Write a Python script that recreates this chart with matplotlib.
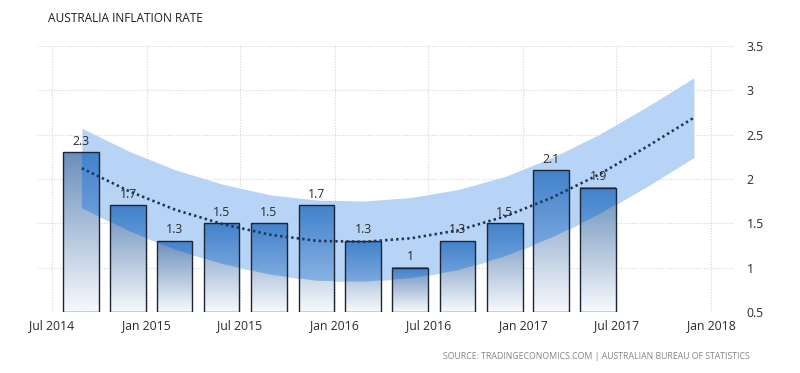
import numpy as np
import pandas as pd
import matplotlib
matplotlib.use("Agg")
import matplotlib.pyplot as plt
import matplotlib.dates as mdates

plt.rcParams['font.family'] = ['Open Sans', 'DejaVu Sans']

# quarterly inflation (quarter end dates)
quarters = ['2014-09-30', '2014-12-31', '2015-03-31', '2015-06-30', '2015-09-30', '2015-12-31',
            '2016-03-31', '2016-06-30', '2016-09-30', '2016-12-31', '2017-03-31', '2017-06-30']
inflation = [2.3, 1.7, 1.3, 1.5, 1.5, 1.7, 1.3, 1.0, 1.3, 1.5, 2.1, 1.9]
value_labels = ['2.3', '1.7', '1.3', '1.5', '1.5', '1.7', '1.3', '1', '1.3', '1.5', '2.1', '1.9']

# trend line with band (two extra forecast quarters)
trend_quarters = quarters + ['2017-09-30', '2017-12-31']
trend = [2.12, 1.86, 1.65, 1.49, 1.37, 1.30, 1.29, 1.33, 1.42, 1.58, 1.79, 2.05, 2.36, 2.69]
band_hi = [2.57, 2.31, 2.10, 1.94, 1.82, 1.76, 1.75, 1.79, 1.88, 2.03, 2.24, 2.50, 2.81, 3.14]
band_lo = [1.67, 1.41, 1.20, 1.04, 0.92, 0.85, 0.84, 0.88, 0.97, 1.13, 1.34, 1.60, 1.91, 2.24]

x_ticks = ['2014-07-01', '2015-01-01', '2015-07-01', '2016-01-01', '2016-07-01',
           '2017-01-01', '2017-07-01', '2018-01-01']
y_ticks = [0.5, 1, 1.5, 2, 2.5, 3, 3.5]

bar_w = 69  # days
qx = mdates.date2num(pd.to_datetime(quarters))
tx = mdates.date2num(pd.to_datetime(trend_quarters)) - bar_w / 2 + 2

fig = plt.figure(figsize=(8, 3.73), dpi=100)
ax = fig.add_axes([0.046, 0.164, 0.87, 0.713])
ymin, ymax = 0.5, 3.5

# band
band = ax.fill_between(tx, band_lo, band_hi, color='#b7d3f5', lw=0, zorder=1)
band_path = band.get_paths()[0]

def grad(top, bottom, n=100):
    top = np.array(matplotlib.colors.to_rgb(top))
    bottom = np.array(matplotlib.colors.to_rgb(bottom))
    t = np.linspace(0, 1, n)[:, None]
    return (bottom + (top - bottom) * t)[:, None, :]

bars = ax.bar(qx, [v - ymin for v in inflation], width=-bar_w, bottom=ymin, align='edge',
              facecolor='none', edgecolor='#1c2533', lw=1.0, zorder=4)
for b in bars:
    x0, y0 = b.get_x(), b.get_y()
    x1, y1 = x0 + b.get_width(), y0 + b.get_height()
    ext = (min(x0, x1), max(x0, x1), y0, y1)
    im = ax.imshow(grad('#6a8fbc', '#f7f9fc'), extent=ext, aspect='auto', origin='lower', zorder=2)
    im.set_clip_path(b)
    im2 = ax.imshow(grad('#4382cb', '#a4c5ee'), extent=ext, aspect='auto', origin='lower', zorder=3)
    im2.set_clip_path(band_path, ax.transData)

for x, v, lab in zip(qx - bar_w / 2, inflation, value_labels):
    ax.text(x, v + 0.05, lab, ha='center', va='bottom', fontsize=8.8, color='#2b2b2b', zorder=6)

ax.plot(tx, trend, color='#1f3556', lw=1.9, linestyle=(0, (0.9, 1.2)), zorder=5)

ax.set_xlim(mdates.date2num(pd.Timestamp('2014-06-02')), mdates.date2num(pd.Timestamp('2018-02-12')))
ax.set_ylim(ymin, ymax)
ax.set_xticks(mdates.date2num(pd.to_datetime(x_ticks)))
ax.xaxis.set_major_formatter(mdates.DateFormatter('%b %Y'))
ax.set_yticks(y_ticks)
ax.set_yticklabels(['0.5', '1', '1.5', '2', '2.5', '3', '3.5'])
ax.yaxis.tick_right()
ax.tick_params(axis='both', length=0, labelsize=8.8, labelcolor='#2b2b2b')
ax.tick_params(axis='y', pad=10)
ax.tick_params(axis='x', pad=5)
ax.grid(True, color='#d4d4d4', linestyle=(0, (1, 1.5)), lw=0.8)
ax.set_axisbelow(True)
for s in ax.spines.values():
    s.set_visible(False)

fig.text(0.06, 0.95, 'AUSTRALIA INFLATION RATE', fontsize=8.6, color='#1f1f1f', va='center')
fig.text(0.937, 0.045, 'SOURCE: TRADINGECONOMICS.COM | AUSTRALIAN BUREAU OF STATISTICS',
         fontsize=6.3, color='#858585', ha='right', va='center')

fig.savefig('out.png', dpi=100)
